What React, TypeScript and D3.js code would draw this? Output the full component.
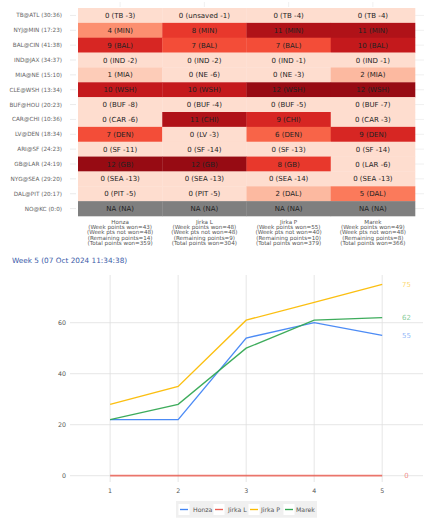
import React from "react";
import * as d3 from "d3";

const players = ["Honza", "Jirka L", "Jirka P", "Marek"];
const games = [
  "TB@ATL (30:36)", "NYJ@MIN (17:23)", "BAL@CIN (41:38)", "IND@JAX (34:37)", "MIA@NE (15:10)",
  "CLE@WSH (13:34)", "BUF@HOU (20:23)", "CAR@CHI (10:36)", "LV@DEN (18:34)", "ARI@SF (24:23)",
  "GB@LAR (24:19)", "NYG@SEA (29:20)", "DAL@PIT (20:17)", "NO@KC (0:0)",
];
// points per game per player (null = NA)
const points: (number | null)[][] = [
  [0, 0, 0, 0],
  [4, 8, 11, 11],
  [9, 7, 7, 10],
  [0, 0, 0, 0],
  [1, 0, 0, 2],
  [10, 10, 12, 12],
  [0, 0, 0, 0],
  [0, 11, 9, 0],
  [7, 0, 6, 9],
  [0, 0, 0, 0],
  [12, 12, 8, 0],
  [0, 0, 0, 0],
  [0, 0, 2, 5],
  [null, null, null, null],
];
const picks: string[][] = [
  ["TB -3", "unsaved -1", "TB -4", "TB -4"],
  ["MIN", "MIN", "MIN", "MIN"],
  ["BAL", "BAL", "BAL", "BAL"],
  ["IND -2", "IND -2", "IND -1", "IND -1"],
  ["MIA", "NE -6", "NE -3", "MIA"],
  ["WSH", "WSH", "WSH", "WSH"],
  ["BUF -8", "BUF -4", "BUF -5", "BUF -7"],
  ["CAR -6", "CHI", "CHI", "CAR -3"],
  ["DEN", "LV -3", "DEN", "DEN"],
  ["SF -11", "SF -14", "SF -13", "SF -14"],
  ["GB", "GB", "GB", "LAR -6"],
  ["SEA -13", "SEA -13", "SEA -14", "SEA -13"],
  ["PIT -5", "PIT -5", "DAL", "DAL"],
  ["NA", "NA", "NA", "NA"],
];
const weekWon = [43, 48, 55, 49];
const weekNotWon = [48, 48, 40, 48];
const remaining = [14, 9, 10, 8];
const totalWon = [359, 304, 379, 366];

const weeks = [1, 2, 3, 4, 5];
const series: Record<string, number[]> = {
  Honza: [22, 22, 54, 60, 55],
  "Jirka L": [0, 0, 0, 0, 0],
  "Jirka P": [28, 35, 61, 68, 75],
  Marek: [22, 28, 50, 61, 62],
};
const colors: Record<string, string> = {
  Honza: "#4285F4",
  "Jirka L": "#EA4335",
  "Jirka P": "#FBBC04",
  Marek: "#34A853",
};
const yTicks = [0, 20, 40, 60];
const title = "Week 5 (07 Oct 2024 11:34:38)";

const FONT = "DejaVu Sans, sans-serif";

export default function App() {
  const W = 435, H = 530;
  // table
  const colX = d3.scaleBand<string>().domain(players).range([78, 415]);
  const rowY = d3.scaleBand<string>().domain(games).range([8, 216]);
  const cellColor = (v: number | null) =>
    v === null ? "#7f7f7f" : d3.interpolateReds(0.125 + (v / 12) * 0.775);

  // line chart
  const x = d3.scaleLinear().domain([0.41, 5.6]).range([70, 423]);
  const y = d3.scaleLinear().domain([0, 20]).range([475.7, 424.7]);
  const plotTop = 275, plotBottom = 482;
  const line = d3.line<number>().x((_, i) => x(weeks[i])).y((d) => y(d));

  const legendItems = [
    { name: "Honza", lx: 180, tx: 193 },
    { name: "Jirka L", lx: 215, tx: 228 },
    { name: "Jirka P", lx: 250, tx: 261 },
    { name: "Marek", lx: 285, tx: 296 },
  ];

  return (
    <svg width={W} height={H} style={{ position: "absolute", left: 0, top: 0, background: "#fff" }}
      fontFamily={FONT}>
      {/* table grid extending */}
      {games.map((g) => (
        <g key={"gl" + g}>
          <line x1={70} x2={76} y1={rowY(g)! + rowY.bandwidth() / 2} y2={rowY(g)! + rowY.bandwidth() / 2}
            stroke="#e6e6e6" strokeWidth={0.8} />
          <line x1={415} x2={424} y1={rowY(g)! + rowY.bandwidth() / 2} y2={rowY(g)! + rowY.bandwidth() / 2}
            stroke="#ececec" strokeWidth={0.8} />
          <text x={62} y={rowY(g)! + rowY.bandwidth() / 2} dy="0.35em" textAnchor="end"
            fontSize={5.7} fill="#666">{g}</text>
        </g>
      ))}
      {players.map((p) => (
        <line key={"vt" + p} x1={colX(p)! + colX.bandwidth() / 2} x2={colX(p)! + colX.bandwidth() / 2}
          y1={2} y2={7} stroke="#ececec" strokeWidth={0.8} />
      ))}
      {games.map((g, r) =>
        players.map((p, c) => {
          const v = points[r][c];
          return (
            <g key={g + p}>
              <rect x={colX(p)!} y={rowY(g)!} width={colX.bandwidth() + 0.3} height={rowY.bandwidth() + 0.3}
                fill={cellColor(v)} />
              <text x={colX(p)! + colX.bandwidth() / 2} y={rowY(g)! + rowY.bandwidth() / 2} dy="0.36em"
                textAnchor="middle" fontSize={7} fill="#222">
                {`${v === null ? "NA" : v} (${picks[r][c]})`}
              </text>
            </g>
          );
        })
      )}
      {players.map((p, c) => {
        const cx = colX(p)! + colX.bandwidth() / 2;
        const lines = [
          p,
          `(Week points won=${weekWon[c]})`,
          `(Week pts not won=${weekNotWon[c]})`,
          `(Remaining points=${remaining[c]})`,
          `(Total points won=${totalWon[c]})`,
        ];
        return (
          <text key={"lab" + p} x={cx} y={223.5} textAnchor="middle" fontSize={5.6} fill="#555">
            {lines.map((l, i) => (
              <tspan key={i} x={cx} dy={i === 0 ? 0 : 5.45}>{l}</tspan>
            ))}
          </text>
        );
      })}

      {/* title */}
      <text x={12} y={262.8} fontSize={7.3} fill="#3a5ba8">{title}</text>

      {/* grid */}
      {yTicks.map((t) => (
        <g key={"yt" + t}>
          <line x1={70} x2={423} y1={y(t)} y2={y(t)} stroke="#ebebeb" strokeWidth={1.2} />
          <text x={66} y={y(t)} dy="0.35em" textAnchor="end" fontSize={6.3} fill="#555">{t}</text>
        </g>
      ))}
      {weeks.map((w) => (
        <g key={"xt" + w}>
          <line x1={x(w)} x2={x(w)} y1={plotTop} y2={plotBottom} stroke="#e0e0e0" strokeWidth={0.8} />
          <text x={x(w)} y={491} dy="0.35em" textAnchor="middle" fontSize={6.3} fill="#555">{w}</text>
        </g>
      ))}

      {/* lines */}
      {players.map((p) => (
        <path key={"ln" + p} d={line(series[p])!} fill="none" stroke={colors[p]}
          strokeWidth={p === "Jirka L" ? 1.7 : 1.35} strokeOpacity={p === "Jirka L" ? 0.7 : 0.95} />
      ))}
      {players.map((p) => (
        <text key={"end" + p} x={406.5} y={y(series[p][4])} dy="0.35em" textAnchor="middle"
          fontSize={7} fill={colors[p]} fillOpacity={0.6}>{series[p][4]}</text>
      ))}

      {/* legend */}
      <rect x={176} y={501} width={141} height={16.7} fill="#f0f0f0" />
      {legendItems.map((it) => (
        <g key={"lg" + it.name}>
          <rect x={it.lx - 1.5} y={504} width={11} height={11} fill="#fff" />
          <line x1={it.lx} x2={it.lx + 8} y1={509.5} y2={509.5} stroke={colors[it.name]}
            strokeWidth={1.35} strokeOpacity={it.name === "Jirka L" ? 0.85 : 1} />
          <text x={it.tx} y={509.5} dy="0.35em" fontSize={6.2} fill="#555">{it.name}</text>
        </g>
      ))}
    </svg>
  );
}
